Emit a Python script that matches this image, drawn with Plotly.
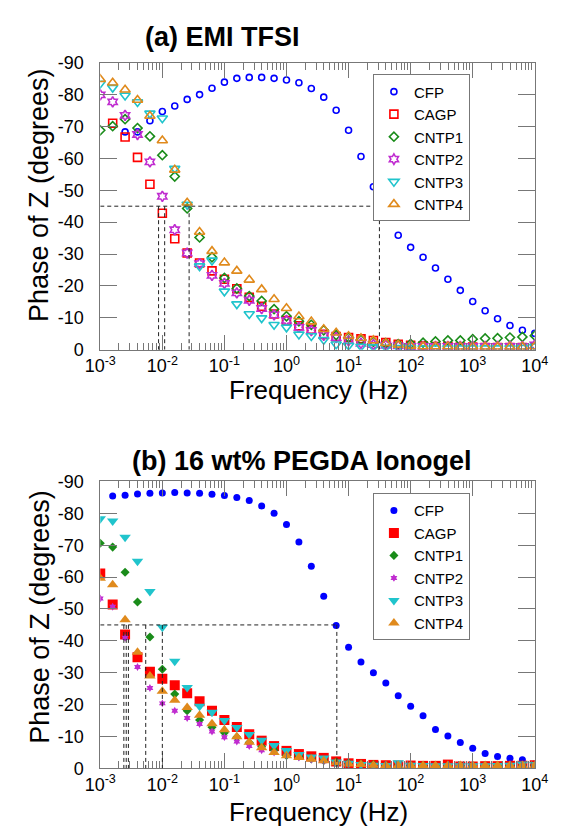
import plotly.graph_objects as go

# ---------------- data ----------------
freq = [1.0e-3, 1.585e-3, 2.512e-3, 3.981e-3, 6.310e-3,
        1.0e-2, 1.585e-2, 2.512e-2, 3.981e-2, 6.310e-2,
        0.1, 0.1585, 0.2512, 0.3981, 0.6310,
        1.0, 1.585, 2.512, 3.981, 6.310,
        10.0, 15.85, 25.12, 39.81, 63.10,
        100.0, 158.5, 251.2, 398.1, 631.0,
        1000.0, 1585.0, 2512.0, 3981.0, 6310.0, 10000.0]

series_names = ["CFP", "CAGP", "CNTP1", "CNTP2", "CNTP3", "CNTP4"]

# (a) EMI TFSI, |phase| in degrees (None = not visible)
cfp_a = [None, None, 68.3, 68.3, 71.8, 74.7, 76.4, 78.5, 80.0, 82.0, 83.9, 85.1, 85.4, 85.4, 85.1, 84.6,
         83.7, 81.9, 79.2, 75.1, 68.8, 60.6, 51.1, 42.4, 35.9, 32.1, 29.0, 25.6, 22.1, 18.6, 15.1, 12.2,
         9.7, 7.6, 6.1, 5.1]
cagp_a = [None, 71.0, 66.7, 60.3, 51.9, 42.8, 34.8, 30.3, 27.2, 24.7, 22.1, 19.1, 16.4, 13.6, 11.2, 9.1,
          7.5, 6.4, 4.8, 4.1, 3.8, 3.4, 2.9, 2.2, 1.7, 1.4, 1.2, 1.0, 1.0, 0.8, 0.8, 0.7, 0.7, 0.7, 0.7, 0.8]
cntp1_a = [68.8, 70.1, 72.3, 69.5, 66.9, 61.0, 54.3, 44.3, 35.2, 29.0, 22.5, 19.2, 16.8, 15.3, 12.7, 10.5,
           8.9, 7.8, 6.1, 4.6, 3.8, 3.1, 2.5, 2.0, 1.7, 1.8, 2.2, 2.6, 2.9, 2.9, 3.3, 3.5, 3.6, 3.8, 4.0, 4.4]
cntp2_a = [79.9, 77.7, 73.5, 67.5, 58.9, 48.1, 37.6, 30.3, 27.0, 23.3, 20.8, 17.8, 15.5, 12.9, 10.9, 9.2,
           7.0, 6.0, 4.5, 3.8, 2.8, 2.0, 1.6, 1.4, 1.2, 1.0, 1.0, 1.0, 1.0, 1.0, 1.0, 1.0, 1.0, 1.0, 1.0, 1.5]
cntp3_a = [83.5, 82.2, 79.7, 77.7, 74.1, 72.6, 56.8, 45.5, 26.2, 28.0, 18.3, 14.3, 11.2, 9.9, 7.8, 7.0,
           4.8, 4.3, 3.1, 1.7, 1.3, 1.0, 0.8, 0.7, 0.6, 0.6, 0.5, 0.5, 0.5, 0.5, 0.5, 0.5, 0.5, 0.5, 0.6, 1.0]
cntp4_a = [84.8, 83.7, 81.5, 78.3, 73.3, 65.6, 56.4, 46.1, 36.9, 30.9, 27.3, 24.7, 21.9, 18.9, 15.8, 13.0,
           10.4, 8.8, 6.4, 5.3, 4.2, 3.6, 2.9, 2.0, 1.5, 1.2, 1.0, 1.0, 1.0, 0.9, 0.9, 0.9, 0.9, 0.9, 0.9, 1.0]

# (b) 16 wt% PEGDA ionogel
cfp_b = [None, 85.4, 85.7, 86.1, 86.3, 86.4, 86.5, 86.4, 86.3, 86.0, 85.6, 85.0, 84.0, 82.3, 80.0, 76.5,
         71.0, 63.4, 54.0, 44.8, 38.0, 33.4, 30.0, 26.8, 22.8, 19.5, 16.5, 12.2, 10.2, 8.1, 6.3, 4.7,
         3.7, 3.2, 2.7, 1.4]
cagp_b = [61.1, 51.4, 42.0, 34.9, 30.3, 28.1, 26.1, 23.6, 21.1, 18.1, 15.2, 13.0, 10.7, 8.7, 7.0, 5.5,
          4.5, 3.8, 3.3, 2.2, 1.6, 1.4, 1.1, 1.0, 0.9, 0.9, 0.8, 0.8, 1.2, 0.6, 0.6, 0.7, 0.7, 0.8, 0.8, 1.0]
cntp1_b = [70.6, 69.4, 61.5, 52.2, 41.2, 31.1, 23.3, 18.1, 15.2, 12.9, 11.2, 9.8, 8.1, 6.8, 5.7, 4.1,
           3.8, 3.0, 2.5, 2.0, 1.7, 1.4, 1.2, 1.0, 1.0, 0.9, 0.9, 0.8, 0.8, 0.8, 0.8, 0.8, 0.8, 0.8, 0.8, 0.9]
cntp2_b = [53.3, 50.7, 41.0, 31.8, 25.2, 20.4, 18.1, 15.8, 13.9, 11.6, 9.8, 8.4, 7.0, 5.7, 5.0, 4.0,
           3.4, 2.8, 2.2, 1.8, 1.5, 1.3, 1.1, 1.0, 1.0, 1.0, 1.0, 1.0, 1.0, 1.0, 1.0, 1.0, 1.0, 1.0, 1.0, 1.0]
cntp3_b = [78.3, 77.6, 72.5, 65.0, 55.5, 44.3, 33.6, 25.4, 19.5, 17.6, 15.0, 12.8, 10.6, 8.8, 7.2, 5.6,
           4.4, 3.6, 3.3, 2.0, 1.6, 1.2, 1.0, 0.9, 1.8, 1.0, 0.9, 0.8, 0.8, 0.8, 0.8, 0.8, 0.9, 1.0, 1.4, 1.2]
cntp4_b = [59.6, 57.6, 46.6, 36.4, 29.0, 24.2, 21.4, 19.1, 16.7, 14.0, 12.1, 9.9, 8.2, 6.5, 5.0, 4.0,
           3.4, 2.9, 2.4, 1.8, 1.4, 1.2, 1.0, 0.9, 0.9, 0.9, 0.9, 0.9, 0.9, 0.9, 0.9, 0.9, 0.9, 0.9, 0.9, 0.9]

# frequencies where each curve crosses -45 degrees (dashed guide lines)
cross_a = [0.0087, 0.0109, 0.027, 31.4]
cross_b = [0.0024, 0.00262, 0.00284, 0.0054, 0.0100, 6.47]
cross_phase = -45

x_tickvals = [1e-3, 1e-2, 1e-1, 1e0, 1e1, 1e2, 1e3, 1e4]
x_ticktext = ["10<sup>-3</sup>", "10<sup>-2</sup>", "10<sup>-1</sup>", "10<sup>0</sup>",
              "10<sup>1</sup>", "10<sup>2</sup>", "10<sup>3</sup>", "10<sup>4</sup>"]
y_tickvals = [0, -10, -20, -30, -40, -50, -60, -70, -80, -90]
y_ticktext = ["0", "-10", "-20", "-30", "-40", "-50", "-60", "-70", "-80", "-90"]

# ---------------- styling ----------------
colors = ["#0000ff", "#ff0000", "#1a8c1a", "#c02cd0", "#20c4cc", "#e08a1c"]
sym_a = ["circle-open", "square-open", "diamond-open", "hexagram-open", "triangle-down-open", "triangle-up-open"]
size_a = [6, 8, 7, 8, 9, 9]
sym_b = ["circle", "square", "diamond", "hexagram", "triangle-down", "triangle-up"]
size_b = [7, 10, 7, 6, 10, 10]

FONT = "Liberation Sans"
W, H = 563, 836
xl, xr = 89, 548
ya_top, ya_bot = 54, 348
yb_top, yb_bot = 483, 777

fig = go.Figure()

def neg(v):
    return [None if a is None else -a for a in v]

data_a = [cfp_a, cagp_a, cntp1_a, cntp2_a, cntp3_a, cntp4_a]
data_b = [cfp_b, cagp_b, cntp1_b, cntp2_b, cntp3_b, cntp4_b]

for i, name in enumerate(series_names):
    fig.add_trace(go.Scatter(
        x=freq, y=neg(data_a[i]), mode="markers", name=name,
        marker=dict(symbol=sym_a[i], size=size_a[i], color=colors[i], line=dict(width=1.6, color=colors[i])),
        xaxis="x", yaxis="y", legend="legend"))
for i, name in enumerate(series_names):
    fig.add_trace(go.Scatter(
        x=freq, y=neg(data_b[i]), mode="markers", name=name,
        marker=dict(symbol=sym_b[i], size=size_b[i], color=colors[i], line=dict(width=0)),
        xaxis="x2", yaxis="y2", legend="legend2"))

# dashed guide lines
DASH = "4px,3px"
shapes = []
for xref, yref, crosses in [("x", "y", cross_a), ("x2", "y2", cross_b)]:
    shapes.append(dict(type="line", xref=xref, yref=yref, x0=freq[0], x1=max(crosses),
                       y0=cross_phase, y1=cross_phase, line=dict(color="#222222", width=1, dash=DASH)))
    for c in crosses:
        shapes.append(dict(type="line", xref=xref, yref=yref, x0=c, x1=c, y0=cross_phase, y1=0,
                           line=dict(color="#222222", width=1, dash=DASH)))

minor_vals = []
for e in range(-3, 4):
    for m in range(2, 10):
        minor_vals.append(m * 10 ** e)

def xaxis_cfg(domain_y_anchor):
    return dict(type="log", range=[-3, 4], domain=[xl / W, xr / W], anchor=domain_y_anchor,
                tickmode="array", tickvals=x_tickvals, ticktext=x_ticktext,
                ticks="inside", ticklen=15, tickwidth=1, tickcolor="#777777",
                minor=dict(tickmode="array", tickvals=minor_vals, ticks="inside", ticklen=7,
                           tickwidth=1, tickcolor="#777777", showgrid=False),
                showline=True, linecolor="#777777", linewidth=1, mirror="ticks",
                showgrid=False, zeroline=False,
                tickfont=dict(family=FONT, size=18, color="black"))

def yaxis_cfg(top, bot, anchor):
    return dict(range=[0, -90], domain=[1 - bot / H, 1 - top / H], anchor=anchor,
                tickmode="array", tickvals=y_tickvals, ticktext=y_ticktext,
                ticks="inside", ticklen=17, tickwidth=1, tickcolor="#777777",
                showline=True, linecolor="#777777", linewidth=1, mirror="ticks",
                showgrid=False, zeroline=False, ticklabelstandoff=12,
                tickfont=dict(family=FONT, size=18, color="black"))

legend_common = dict(font=dict(family=FONT, size=15, color="black"), bgcolor="white",
                     bordercolor="#777777", borderwidth=1, xanchor="left", yanchor="top",
                     tracegroupgap=0, itemsizing="trace", entrywidth=118, entrywidthmode="pixels")

annotations = [
    dict(text="<b>(a) EMI TFSI</b>", x=218 / W, y=1 - 28 / H, xref="paper", yref="paper",
         showarrow=False, font=dict(family=FONT, size=27, color="black"), xanchor="center", yanchor="middle"),
    dict(text="<b>(b) 16 wt% PEGDA Ionogel</b>", x=302 / W, y=1 - 462 / H, xref="paper", yref="paper",
         showarrow=False, font=dict(family=FONT, size=27, color="black"), xanchor="center", yanchor="middle"),
    dict(text="Frequency (Hz)", x=320 / W, y=1 - 389 / H, xref="paper", yref="paper",
         showarrow=False, font=dict(family=FONT, size=26, color="black"), xanchor="center", yanchor="middle"),
    dict(text="Frequency (Hz)", x=320 / W, y=1 - 822 / H, xref="paper", yref="paper",
         showarrow=False, font=dict(family=FONT, size=26, color="black"), xanchor="center", yanchor="middle"),
    dict(text="Phase of Z (degrees)", x=25 / W, y=1 - 190 / H, xref="paper", yref="paper", textangle=-90,
         showarrow=False, font=dict(family=FONT, size=27, color="black"), xanchor="center", yanchor="middle"),
    dict(text="Phase of Z (degrees)", x=25 / W, y=1 - 622 / H, xref="paper", yref="paper", textangle=-90,
         showarrow=False, font=dict(family=FONT, size=27, color="black"), xanchor="center", yanchor="middle"),
]

fig.update_layout(
    width=W, height=H, margin=dict(l=0, r=0, t=0, b=0),
    paper_bgcolor="white", plot_bgcolor="white",
    xaxis=xaxis_cfg("y"), yaxis=yaxis_cfg(ya_top, ya_bot, "x"),
    xaxis2=xaxis_cfg("y2"), yaxis2=yaxis_cfg(yb_top, yb_bot, "x2"),
    legend=dict(x=377 / W, y=1 - 66 / H, **legend_common),
    legend2=dict(x=377 / W, y=1 - 495 / H, **legend_common),
    shapes=shapes, annotations=annotations, showlegend=True,
)

fig.write_html("out.html", config={"displayModeBar": False},
               post_script="document.body.style.margin='0';document.body.style.overflow='hidden';")
